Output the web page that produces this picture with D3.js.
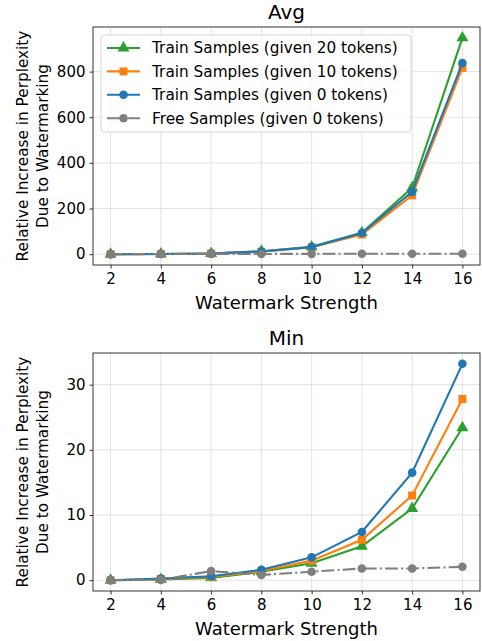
<!DOCTYPE html>
<meta charset="utf-8">
<script src="https://d3js.org/d3.v7.min.js"></script>
<style>
  body { margin: 0; background: #fff; }
  text { font-family: "DejaVu Sans", sans-serif; fill: #000; }
</style>
<div id="viz"></div>
<script>

var strengths = [2, 4, 6, 8, 10, 12, 14, 16];

// Avg panel
var avgTrain20 = [0, 1, 3, 13, 32, 94, 291, 948];
var avgTrain10 = [0, 1, 3, 11, 30, 86, 258, 816];
var avgTrain0  = [0, 1, 3, 12, 31, 93, 273, 838];
var avgFree    = [0, 0.5, 1.5, 1, 1.5, 2, 2, 2];

// Min panel
var minTrain20 = [0, 0.1, 0.35, 1.3, 2.6, 5.2, 11.0, 23.4];
var minTrain10 = [0, 0.2, 0.5, 1.4, 3.0, 6.2, 13.0, 27.8];
var minTrain0  = [0, 0.25, 0.6, 1.6, 3.5, 7.4, 16.5, 33.2];
var minFree    = [0, 0.05, 1.4, 0.8, 1.3, 1.8, 1.8, 2.05];

var seriesNames = ["Train Samples (given 20 tokens)", "Train Samples (given 10 tokens)",
                   "Train Samples (given 0 tokens)", "Free Samples (given 0 tokens)"];
var seriesColors = ["#2ca02c", "#ff7f0e", "#1f77b4", "#7f7f7f"];
var seriesMarkers = ["triangle", "square", "circle", "circle"];

var avgTicks = [0, 200, 400, 600, 800];
var minTicks = [0, 10, 20, 30];

var W = 482, H = 641;
var svg = d3.select("#viz").append("svg")
  .attr("width", W).attr("height", H);

var markerSym = {
  triangle: d3.symbolTriangle,
  square: d3.symbolSquare,
  circle: d3.symbolCircle
};
var markerSize = { triangle: 62, square: 64, circle: 58 };

function panel(title, series, ticks, box, showLegend) {
  var g = svg.append("g");
  var x = d3.scaleLinear().domain([1.3, 16.7]).range([box.left, box.right]);
  var all = d3.merge(series);
  var lo = d3.min(all), hi = d3.max(all), pad = (hi - lo) * 0.05;
  var y = d3.scaleLinear().domain([lo - pad, hi + pad]).range([box.bottom, box.top]);

  // grid
  g.append("g").selectAll("line").data(strengths).join("line")
    .attr("x1", d => x(d)).attr("x2", d => x(d))
    .attr("y1", box.top).attr("y2", box.bottom)
    .attr("stroke", "#dcdcdc").attr("stroke-width", 0.8);
  g.append("g").selectAll("line").data(ticks).join("line")
    .attr("x1", box.left).attr("x2", box.right)
    .attr("y1", d => y(d)).attr("y2", d => y(d))
    .attr("stroke", "#dcdcdc").attr("stroke-width", 0.8);

  // axes
  var xa = g.append("g").attr("transform", "translate(0," + box.bottom + ")")
    .call(d3.axisBottom(x).tickValues(strengths).tickSize(3.5).tickPadding(4).tickSizeOuter(0));
  var ya = g.append("g").attr("transform", "translate(" + box.left + ",0)")
    .call(d3.axisLeft(y).tickValues(ticks).tickSize(3.5).tickPadding(4).tickSizeOuter(0));
  [xa, ya].forEach(function (a) {
    a.select(".domain").remove();
    a.selectAll("text").style("font-family", "DejaVu Sans").style("font-size", "15px").attr("fill", "#000");
    a.selectAll("line").attr("stroke", "#000").attr("stroke-width", 0.8);
  });
  xa.selectAll("text").attr("dy", "0.75em");

  var line = d3.line().x((d, i) => x(strengths[i])).y(d => y(d));
  series.forEach(function (s, k) {
    g.append("path").datum(s)
      .attr("d", line).attr("fill", "none")
      .attr("stroke", seriesColors[k]).attr("stroke-width", 2.1)
      .attr("stroke-dasharray", k === 3 ? "12.8,3.2,2,3.2" : null);
    g.append("g").selectAll("path").data(s).join("path")
      .attr("transform", (d, i) => "translate(" + x(strengths[i]) + "," + y(d) + ")")
      .attr("d", d3.symbol().type(markerSym[seriesMarkers[k]]).size(markerSize[seriesMarkers[k]]))
      .attr("fill", seriesColors[k]);
  });

  // frame
  g.append("rect")
    .attr("x", box.left).attr("y", box.top)
    .attr("width", box.right - box.left).attr("height", box.bottom - box.top)
    .attr("fill", "none").attr("stroke", "#000").attr("stroke-width", 0.8);

  g.append("text").attr("x", (box.left + box.right) / 2).attr("y", box.top - 8)
    .attr("text-anchor", "middle").style("font-size", "20px").text(title);
  g.append("text").attr("x", (box.left + box.right) / 2).attr("y", box.bottom + 44)
    .attr("text-anchor", "middle").style("font-size", "18px").text("Watermark Strength");

  var cy = (box.top + box.bottom) / 2;
  var yl = g.append("text").attr("transform", "translate(23," + cy + ") rotate(-90)")
    .attr("text-anchor", "middle").style("font-size", "15.3px");
  yl.append("tspan").attr("x", 0).attr("dy", "0.35em").text("Relative Increase in Perplexity");
  yl.append("tspan").attr("x", 0).attr("dy", "1.3em").text("Due to Watermarking");

  if (showLegend) {
    var lg = g.append("g");
    lg.append("rect").attr("x", 101).attr("y", 35).attr("width", 310).attr("height", 97)
      .attr("rx", 3).attr("fill", "#fff").attr("fill-opacity", 0.8)
      .attr("stroke", "#ccc").attr("stroke-width", 0.8);
    seriesNames.forEach(function (name, k) {
      var ly = 48 + k * 23.4;
      lg.append("line").attr("x1", 107).attr("x2", 140).attr("y1", ly).attr("y2", ly)
        .attr("stroke", seriesColors[k]).attr("stroke-width", 2.1)
        .attr("stroke-dasharray", k === 3 ? "12.8,3.2,2,3.2" : null);
      lg.append("path").attr("transform", "translate(123.5," + ly + ")")
        .attr("d", d3.symbol().type(markerSym[seriesMarkers[k]]).size(markerSize[seriesMarkers[k]]))
        .attr("fill", seriesColors[k]);
      lg.append("text").attr("x", 152).attr("y", ly).attr("dy", "0.35em")
        .style("font-size", "15.3px").text(name);
    });
  }
}

panel("Avg", [avgTrain20, avgTrain10, avgTrain0, avgFree], avgTicks,
  { left: 93, right: 480, top: 27, bottom: 265 }, true);
panel("Min", [minTrain20, minTrain10, minTrain0, minFree], minTicks,
  { left: 93, right: 480, top: 353, bottom: 591 }, false);

</script>
